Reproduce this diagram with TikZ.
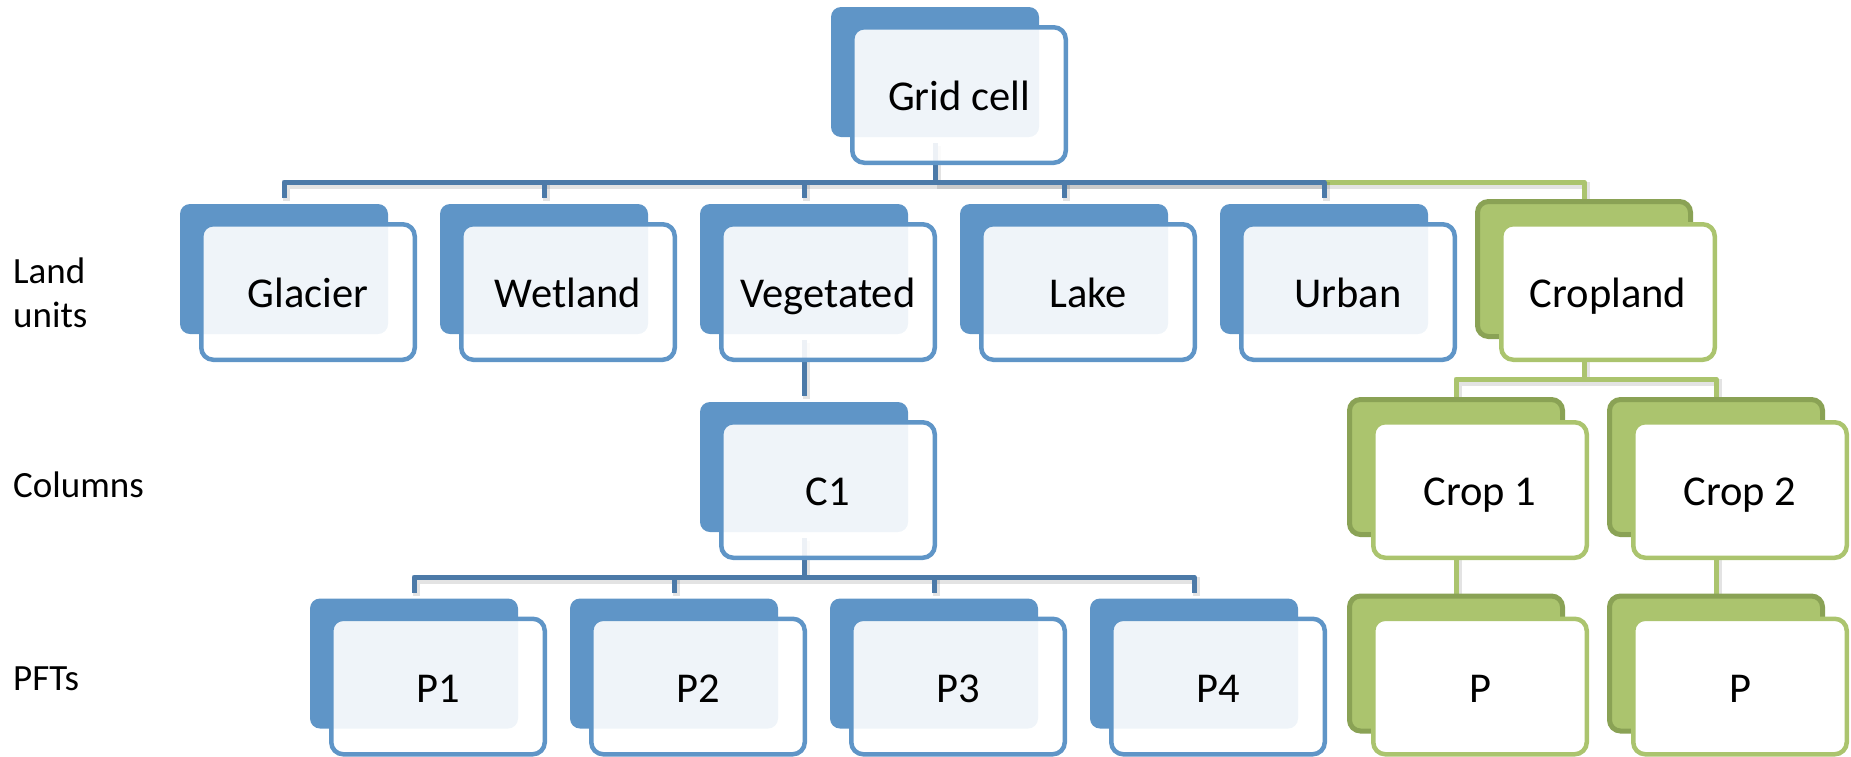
\documentclass[tikz,border=0pt]{standalone}
\usepackage{fontspec}
\setmainfont{Carlito}
\definecolor{bluefill}{RGB}{95,149,199}
\definecolor{blueline}{RGB}{76,122,168}
\definecolor{greenfill}{RGB}{171,196,110}
\definecolor{greendark}{RGB}{138,162,85}
\newcommand\bxfont{\fontsize{42.5}{50}\selectfont}
\newcommand\lblfont{\fontsize{37}{44}\selectfont}
\newcommand\bluebox[4]{%
  \node[bback] (#1-b) at (#2,#3) {};
  \node[bfront] (#1) at (#2+24,#3+23) {#4};}
\newcommand\greenbox[4]{%
  \node[gback] (#1-b) at (#2,#3) {};
  \node[gfront] (#1) at (#2+24,#3+23) {#4};}
\tikzset{
  bback/.style={minimum width=208pt, minimum height=130pt, inner sep=0pt,
    rounded corners=10pt, fill=bluefill, draw=none},
  bfront/.style={minimum width=213.5pt, minimum height=135.5pt, inner sep=0pt,
    rounded corners=12pt, draw=bluefill, line width=4.5pt, fill=white,
    fill opacity=0.9, text opacity=1, font=\bxfont,
    text height=31pt, text depth=0pt},
  gback/.style={minimum width=213pt, minimum height=135pt, inner sep=0pt,
    rounded corners=11pt, fill=greenfill, draw=greendark, line width=5pt},
  gfront/.style={minimum width=213.5pt, minimum height=135.5pt, inner sep=0pt,
    rounded corners=12pt, draw=greenfill, line width=4.5pt, fill=white,
    font=\bxfont, text height=31pt, text depth=0pt},
  shad/.style={preaction={draw=black, draw opacity=0.11, line width=7pt,
    transform canvas={xshift=2pt, yshift=-3pt}}},
  bconn/.style={draw=blueline, line width=5pt, line join=round, shad},
  gconn/.style={draw=greenfill, line width=5pt, line join=round, shad},
  lbl/.style={font=\lblfont, inner sep=0pt, anchor=base west, align=left},
}
\begin{document}
\begin{tikzpicture}[x=1pt, y=-1pt]
\useasboundingbox (0,0) rectangle (1851,756);
% bar levels
\coordinate (bar1) at (0,182);
\coordinate (bar2) at (0,577);
\coordinate (bar3) at (0,379);
% centres of the back plates (boxes are drawn after the connectors)
\path (935,72) coordinate (gc) (284,269) coordinate (gl) (544,269) coordinate (we)
  (804,269) coordinate (ve) (1064,269) coordinate (la) (1324,269) coordinate (ur)
  (1584,269) coordinate (cr) (804,467) coordinate (c1c) (1456,467) coordinate (k1)
  (1716,467) coordinate (k2) (414,663.5) coordinate (q1) (674,663.5) coordinate (q2)
  (934,663.5) coordinate (q3) (1194,663.5) coordinate (q4) (1456,663.5) coordinate (q5)
  (1716,663.5) coordinate (q6);
% connectors (under the boxes)
\draw[gconn] (gc |- bar1) -| ([yshift=65pt]cr);
\draw[bconn] ([yshift=-71pt]gc) -- (gc |- bar1);
\draw[bconn] ([yshift=71pt]gl) |- (ur |- bar1) -- ([yshift=71pt]ur);
\foreach \c in {we,ve,la} \draw[bconn] ([yshift=71pt]\c) -- (\c |- bar1);
\draw[bconn] ([yshift=-71pt]ve) -- ([yshift=71pt]c1c);
\draw[bconn] ([yshift=-71pt]c1c) -- (c1c |- bar2);
\draw[bconn] ([yshift=71pt]q1) |- (q4 |- bar2) -- ([yshift=71pt]q4);
\foreach \c in {q2,q3} \draw[bconn] ([yshift=71pt]\c) -- (\c |- bar2);
\draw[gconn] ([yshift=-71pt]cr) -- (cr |- bar3);
\draw[gconn] ([yshift=68pt]k1) |- (k2 |- bar3) -- ([yshift=68pt]k2);
\draw[gconn] ([yshift=-71pt]k1) -- ([yshift=68pt]q5);
\draw[gconn] ([yshift=-71pt]k2) -- ([yshift=68pt]q6);
% boxes
\bluebox{grid}{935}{72}{Grid cell}
\bluebox{glacier}{284}{269}{Glacier}
\bluebox{wetland}{544}{269}{Wetland}
\bluebox{vegetated}{804}{269}{Vegetated}
\bluebox{lake}{1064}{269}{Lake}
\bluebox{urban}{1324}{269}{Urban}
\greenbox{cropland}{1584}{269}{Cropland}
\bluebox{c1}{804}{467}{C1}
\greenbox{crop1}{1456}{467}{Crop 1}
\greenbox{crop2}{1716}{467}{Crop 2}
\bluebox{p1}{414}{663.5}{P1}
\bluebox{p2}{674}{663.5}{P2}
\bluebox{p3}{934}{663.5}{P3}
\bluebox{p4}{1194}{663.5}{P4}
\greenbox{pa}{1456}{663.5}{P}
\greenbox{pb}{1716}{663.5}{P}
% level labels
\node[lbl] (landunits) at (13,327) {Land\\units};
\node[lbl] (columns) at (13,497) {Columns};
\node[lbl] (pfts) at (13,690) {PFTs};
\end{tikzpicture}
\end{document}
